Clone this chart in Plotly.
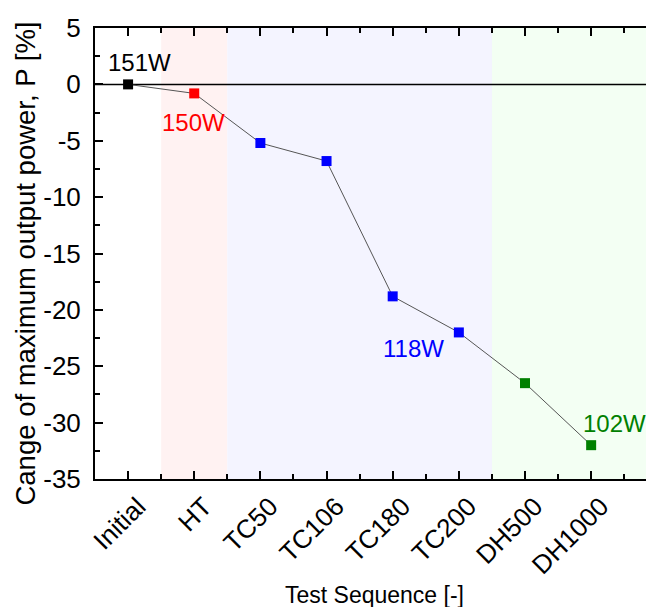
import plotly.graph_objects as go

categories = ["Initial", "HT", "TC50", "TC106", "TC180", "TC200", "DH500", "DH1000"]
change_pct = [0.0, -0.8, -5.2, -6.8, -18.8, -22.0, -26.5, -32.0]
marker_colors = ["#000000", "#FF0000", "#0000FF", "#0000FF", "#0000FF", "#0000FF", "#008000", "#008000"]
y_ticks = [5, 0, -5, -10, -15, -20, -25, -30, -35]
y_tick_text = ["5", "0", "-5", "-10", "-15", "-20", "-25", "-30", "-35"]
power_labels = ["151W", "150W", "118W", "102W"]
label_x = [0.17, 0.99, 4.32, 7.36]
label_y = [1.9, -3.4, -23.4, -30.1]
label_colors = ["#000000", "#FF0000", "#0000FF", "#008000"]
bands = [(0.5, 1.5, "#FFF2F2"), (1.5, 5.5, "#F4F4FF"), (5.5, 8.0, "#F3FFF3")]

FONT = "Liberation Sans, Arial, sans-serif"
xs = list(range(len(categories)))

fig = go.Figure()
fig.add_trace(go.Scatter(
    x=xs, y=change_pct, mode="lines+markers",
    line=dict(color="#555555", width=1),
    marker=dict(symbol="square", size=10, color=marker_colors, line=dict(width=0)),
    showlegend=False, cliponaxis=False,
))
# invisible trace for right-side ticks
fig.add_trace(go.Scatter(x=[None], y=[None], yaxis="y2", showlegend=False))

shapes = []
for x0, x1, c in bands:
    shapes.append(dict(type="rect", xref="x", yref="y", x0=x0, x1=x1, y0=-35, y1=5,
                       fillcolor=c, line=dict(width=0), layer="below"))
shapes.append(dict(type="line", xref="x", yref="y", x0=-0.5, x1=8, y0=0, y1=0,
                   line=dict(color="black", width=1.5), layer="below"))

annotations = []
for t, x, y, c in zip(power_labels, label_x, label_y, label_colors):
    annotations.append(dict(x=x, y=y, xref="x", yref="y", text=t, showarrow=False,
                            font=dict(family=FONT, size=24, color=c)))
# axis titles
annotations.append(dict(x=-0.125, y=0.478, xref="paper", yref="paper",
                        text="Cange of maximum output power, P [%]", textangle=-90,
                        showarrow=False, xanchor="center", yanchor="middle",
                        font=dict(family=FONT, size=27.5, color="black")))
annotations.append(dict(x=0.5, y=-0.257, xref="paper", yref="paper",
                        text="Test Sequence [-]", showarrow=False,
                        xanchor="center", yanchor="middle",
                        font=dict(family=FONT, size=23, color="black")))

minor_y = [-32.5, -27.5, -22.5, -17.5, -12.5, -7.5, -2.5, 2.5]

fig.update_layout(
    width=646, height=599,
    margin=dict(l=87, r=0, t=20, b=128),
    plot_bgcolor="white", paper_bgcolor="white",
    font=dict(family=FONT, size=24, color="black"),
    shapes=shapes, annotations=annotations,
    xaxis=dict(
        range=[-0.5, 7.95], tickmode="array", tickvals=xs, ticktext=categories,
        tickangle=-45, ticks="inside", ticklen=8, tickwidth=1.5, tickcolor="black",
        showline=True, linecolor="black", linewidth=2, mirror="ticks",
        showgrid=False, zeroline=False, automargin=False,
        ticklabelshift=10,
        minor=dict(tickvals=[i + 0.5 for i in range(-1, 8)], ticks="inside", ticklen=5,
                   tickwidth=1.5, tickcolor="black", showgrid=False),
        tickfont=dict(size=26),
    ),
    yaxis=dict(
        range=[-35, 5], tickmode="array", tickvals=y_ticks, ticktext=y_tick_text,
        ticks="inside", ticklen=8, tickwidth=1.5, tickcolor="black",
        showline=True, linecolor="black", linewidth=2,
        showgrid=False, zeroline=False, automargin=False,
        ticklabelstandoff=7,
        minor=dict(tickvals=minor_y, ticks="inside", ticklen=5, tickwidth=1.5,
                   tickcolor="black", showgrid=False),
        tickfont=dict(size=26),
    ),
    yaxis2=dict(
        range=[-35, 5], overlaying="y", side="right", tickmode="array", tickvals=y_ticks,
        showticklabels=False, ticks="inside", ticklen=8, tickwidth=1.5, tickcolor="black",
        showline=False, showgrid=False, zeroline=False, automargin=False,
        minor=dict(tickvals=minor_y, ticks="inside", ticklen=5, tickwidth=1.5,
                   tickcolor="black", showgrid=False),
    ),
)

fig.write_html("out.html")
